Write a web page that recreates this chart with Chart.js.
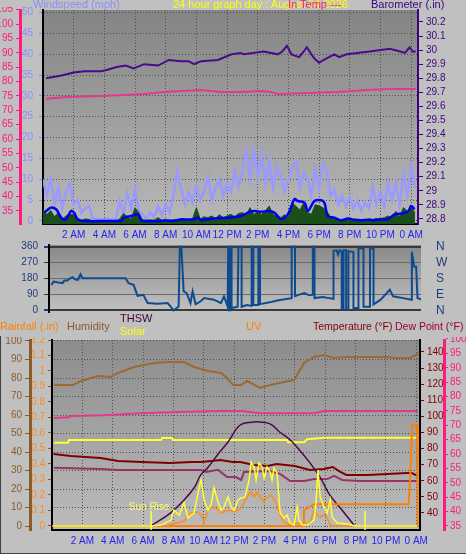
<!DOCTYPE html>
<html>
<head>
<meta charset="utf-8">
<script src="https://cdn.jsdelivr.net/npm/chart.js@4.4.1/dist/chart.umd.min.js"></script>
<style>
body{margin:0;background:#c0c0c0;width:466px;height:554px;position:relative;overflow:hidden;font-family:"Liberation Sans",Arial,sans-serif}
canvas{position:absolute;left:0}
.t{position:absolute;font-size:11px;line-height:12px;white-space:nowrap}
#frame{position:absolute;left:0;top:336px;width:465px;height:217px;border-left:1px solid #404040;border-bottom:1px solid #404040}
</style>
</head>
<body>
<div id="frame"></div>
<canvas id="top" width="466" height="234" style="top:7px"></canvas>
<canvas id="mid" width="466" height="80" style="top:236px"></canvas>
<canvas id="bot" width="466" height="217" style="top:337px"></canvas>

<div class="t" style="left:33px;top:-2px;color:#8c8cff">Windspeed (mph)</div>
<div class="t" style="left:173px;top:-2px;color:#ffff00">24 hour graph day : August 04 2026</div>
<div class="t" style="left:288px;top:-2px;color:#ff1a80">In Temp ---</div>
<div class="t" style="left:371px;top:-2px;color:#400080">Barometer (.in)</div>

<div class="t" style="left:0px;top:320px;color:#ff8000">Rainfall (.in)</div>
<div class="t" style="left:67px;top:320px;color:#8b5a2b">Humidity</div>
<div class="t" style="left:120px;top:312px;color:#400040">THSW</div>
<div class="t" style="left:120px;top:325px;color:#ffff00">Solar</div>
<div class="t" style="left:246px;top:320px;color:#ff8000">UV</div>
<div class="t" style="left:313px;top:320px;color:#800000;font-size:10.5px">Temperature (°F)</div>
<div class="t" style="left:395px;top:320px;color:#990033;font-size:10.5px">Dew Point (°F)</div>

<script>
// ---- tick values ----
const hourTicks = [0,2,4,6,8,10,12,14,16,18,20,22,24];
const windTicks = [0,5,10,15,20,25,30,35,40,45,50];
const pinkTicks = [35,40,45,50,55,60,65,70,75,80,85,90,95,100,105];
const baroTicks = [28.8,28.9,29,29.1,29.2,29.3,29.4,29.5,29.6,29.7,29.8,29.9,30,30.1,30.2];
const dirTicks = [0,90,180,270,360];
const dirNames = ['N','E','S','W','N'];
const humTicks = [0,10,20,30,40,50,60,70,80,90,100];
const rainTicks = [0,0.1,0.2,0.3,0.4,0.5,0.6,0.7,0.8,0.9,1,1.1,1.2];
const tempTicks = [40,50,60,70,80,90,100,110,120,130,140];
const dewTicks = [35,40,45,50,55,60,65,70,75,80,85,90,95,100];

// ---- top panel: [hour, value] ----
const barometer = [[0.2,29.80],[1.2,29.82],[2.0,29.84],[2.7,29.85],[3.8,29.85],[4.2,29.86],[4.8,29.88],[5.4,29.89],[5.9,29.87],[6.6,29.90],[7.5,29.89],[8.2,29.93],[9.0,29.92],[9.5,29.92],[9.85,29.90],[10.3,29.92],[11.4,29.93],[12.3,29.97],[12.9,29.98],[13.1,29.97],[14.4,29.99],[15.3,29.97],[15.6,29.99],[15.9,30.03],[16.2,29.97],[16.7,29.95],[17.0,29.99],[17.2,30.02],[17.5,29.97],[17.7,29.94],[18.0,29.91],[18.3,29.93],[19.0,29.97],[19.3,29.95],[19.8,29.97],[21.3,29.99],[22.6,30.01],[23.3,29.99],[23.6,29.98],[23.9,30.02],[24.1,29.99],[24.3,29.99]];
const insideTemp = [[0.2,74.0],[1.6,74.6],[3.8,75.0],[6.6,75.7],[7.9,76.4],[10.3,77.1],[11.6,76.4],[12.9,76.4],[14.3,76.7],[14.8,76.4],[15.3,75.7],[17.4,76.0],[19.2,76.4],[21.1,77.1],[22.6,77.4],[24.3,77.4]];
const windAvg = [[0.09,2.0],[0.52,3.2],[0.85,2.8],[1.06,1.6],[1.28,0.4],[1.5,0.4],[1.83,2.4],[2.04,1.9],[2.26,0.4],[2.7,0],[4.2,0],[4.87,0],[5.09,0],[5.3,0.8],[5.74,1.2],[6.18,1.6],[6.39,0.2],[6.6,0],[7.7,0],[7.91,0.2],[8.35,0],[8.79,0.2],[9.0,0.4],[9.87,0.4],[10.09,0.8],[10.3,0.2],[10.74,0.4],[11.18,0.6],[12.05,0.8],[12.92,1.2],[13.35,2.0],[13.78,2.4],[14.22,2.2],[14.66,2.4],[15.09,2.0],[15.53,0.4],[15.96,1.6],[16.39,5.2],[16.61,4.8],[17.05,4.4],[17.27,2.4],[17.7,4.8],[18.13,5.0],[18.35,4.4],[18.57,1.2],[19.0,0.8],[19.44,0.2],[19.88,0.6],[20.31,0.3],[20.74,0.2],[21.18,0.3],[21.61,0.2],[22.05,0.4],[22.48,0.4],[22.92,1.6],[23.35,1.8],[23.79,2.2],[24.0,3.6],[24.22,2.8]];
// sampled every quarter hour
const windStep = 0.25;
const windGust = [10,6,10,4,8,3,7,9,4,5, 2,3,3.6,0.5,0.5,0.4,0.4,0.5,0.4,0.5, 4.8,2,6.5,3,7.8,2.5,1.5,0.5,2,0.8, 3.6,1.5,4,2,6,11.8,8,4,7,4.5, 8.3,5,7,10.7,5,8,10,6,9,7, 11.9,8.3,12,17,10,17,11,16.2,9,14.4, 8,13,10.7,7,10,13,14.4,8,11.5,9.9, 6,12.6,8,13.8,12.5,6,7.5,4,6,3.5, 5.5,3,5,2.5,4.5,3,8.3,4,7,3.5, 9,5,9.1,4,11,6,13,8];
const windSpeed = [2.8,1.5,2.5,1,2,0.5,1.2,1.6,1.5,0.3, 0,0.5,0.4,0,0,0,0,0,0,0, 0.5,1.8,1,0.4,3.2,2,0.2,0.2,0.3,0.2, 0.8,0.2,0,0.2,0.3,0.4,0.2,0.3,0.2,0.5, 3.2,0.5,1,0.8,1.2,0.6,1.5,0.8,1.2,1.6, 1,1.8,2,1.4,3.2,1.5,2.2,1.6,2.4,3.6, 1.5,1.2,0.8,1.5,0.8,4.3,3.5,2.6,4.4,2, 1.6,3.9,3.6,3.2,2.4,0.8,0.5,0.4,0.2,0.3, 0.2,0.3,0.2,0.3,0.2,0.5,0.4,0.6,0.5,0.8, 1.2,0.8,2.3,1,3.2,2.4,3.2,2];

// ---- middle panel: wind direction [hour, degrees] ----
const windDir = [[0.16,144],[0.3,163],[0.63,157],[0.9,154],[1.0,169],[1.2,169],[1.3,176],[1.55,187],[1.7,176],[1.9,172],[2.07,204],[2.2,182],[5.03,182],[5.23,154],[5.56,144],[5.82,82],[6.2,88],[6.48,41],[7.14,37],[7.8,41],[8.2,0],[8.52,22],[8.6,360],[8.7,360],[8.85,107],[9.05,97],[9.3,41],[9.44,107],[9.64,34],[9.97,51],[10.2,69],[10.84,60],[11.3,41],[11.5,79],[11.74,22],[11.78,360],[11.83,360],[11.83,0],[11.92,0],[11.92,360],[12.0,360],[12.0,13],[12.4,20],[12.45,360],[12.66,360],[12.66,20],[13.0,30],[13.32,25],[13.32,360],[13.43,360],[13.43,30],[13.76,30],[13.76,360],[13.87,360],[13.87,35],[14.5,45],[15.0,55],[15.5,62],[15.95,69],[15.95,360],[16.17,360],[16.17,80],[16.5,90],[16.8,97],[17.1,85],[17.34,88],[17.34,360],[17.45,360],[17.45,69],[18.0,75],[18.4,69],[18.7,65],[18.7,335],[18.9,340],[19.0,315],[19.1,340],[19.24,332],[19.24,13],[19.36,13],[19.36,340],[19.53,340],[19.53,6],[19.68,6],[19.68,335],[20.01,330],[20.01,13],[20.34,13],[20.34,350],[20.67,350],[20.67,20],[21.1,20],[21.1,350],[21.33,350],[21.33,34],[21.8,60],[22.4,116],[22.62,79],[23.28,69],[23.83,60],[23.85,332],[24.0,247],[24.13,247],[24.22,69],[24.5,60]];

// ---- bottom panel: [hour, value] ----
const humidity = [[0.13,76.2],[1.38,76.2],[1.91,78.4],[3.03,81.1],[3.89,80.5],[4.35,82.7],[5.41,85.9],[6.72,88.1],[7.65,88.6],[8.7,88.6],[9.36,85.9],[10.28,83.8],[11.14,82.7],[11.54,80],[11.93,76.2],[12.46,76.2],[12.85,78.4],[13.71,74.6],[14.37,76.2],[15.29,77.8],[15.95,78.9],[16.61,88.1],[17.27,91.4],[17.93,92.4],[18.59,90.8],[19.45,91.4],[22.08,91.4],[22.54,90.8],[23.6,90.8],[24.19,93.5]];
const temperature = [[0.1,76.6],[1.25,75.4],[3.2,74.2],[4.35,72.3],[5.9,71.7],[7.8,71.0],[9.2,71.7],[9.8,71.7],[10.5,72.3],[11.1,72.9],[11.9,71.7],[12.4,71.7],[13.3,69.8],[14.2,69.2],[14.8,70.4],[16.0,69.2],[17.0,66.7],[17.9,67.3],[18.5,68.6],[19.0,65.5],[19.4,63.6],[20.8,63.6],[22.1,64.2],[23.4,64.8],[23.7,64.8],[24.1,63.0]];
const dewPoint = [[0.13,55.2],[3.23,54.8],[4.35,54.5],[9.82,54.5],[10.15,53.8],[10.94,54.5],[11.54,52],[12.13,52],[12.46,51],[12.66,53.8],[14.37,54.1],[15.03,53.1],[15.69,50.6],[16.61,50.6],[17.27,51.3],[18.13,51.3],[18.59,52.4],[19.12,51],[20.3,50.6],[24.06,50.6]];
const heatIndex = [[0.13,72.5],[1.1,72.8],[1.25,73.2],[3.4,73.5],[5.9,74.2],[8.3,74.6],[10.9,75.0],[12.5,75.0],[13.7,74.2],[17.3,74.2],[17.9,75.0],[24.1,75.0]];
const indoorTemp = [[0.13,83.7],[1.05,83.7],[1.12,85.3],[7.19,85.3],[7.25,86.6],[7.9,86.6],[7.98,85.3],[15.49,85.3],[15.56,83.9],[16.61,83.9],[16.8,85.8],[17.93,86.8],[24.06,86.8]];
const thsw = [[6.5,0],[7.8,7],[8.7,14.1],[9.4,21.1],[9.8,27.6],[10.3,31.9],[10.9,38.4],[11.6,45.4],[12.4,54.6],[13.3,56.2],[13.7,56.2],[14.4,55.1],[15.0,50.8],[15.7,46.5],[16.3,41.1],[17.0,34.1],[17.7,25.9],[18.3,16.8],[19.0,9.7],[19.9,0.5]];
const solar = [[0.07,0],[6.53,0],[7.19,0.5],[7.84,3.2],[8.04,8.6],[8.37,5.9],[8.7,12.4],[8.97,4.3],[9.16,5.9],[9.36,7],[9.62,17.8],[9.82,24.9],[10.02,14.1],[10.28,8.6],[10.48,11.4],[10.68,20.5],[10.94,13],[11.14,8.6],[11.34,10.3],[11.6,15.7],[11.8,10.3],[12.0,8.6],[12.26,14.1],[12.46,15.1],[12.72,15.7],[12.99,24.9],[13.12,34.6],[13.32,31.9],[13.45,24.9],[13.65,34.1],[13.84,31.9],[13.98,25.9],[14.17,31.9],[14.37,29.2],[14.5,24.9],[14.63,31.4],[14.83,28.6],[14.96,14.1],[15.03,7],[15.29,4.3],[15.49,5.9],[15.69,1.6],[15.95,0.5],[16.15,10.3],[16.28,3.2],[16.48,0.5],[16.81,0.5],[17.27,3.2],[17.4,13],[17.53,30.3],[17.67,15.7],[17.93,10.3],[18.13,7],[18.33,14.1],[18.46,4.9],[18.79,1.6],[19.45,1.1],[19.97,0],[24.06,0]];
const uv = [[7.38,0],[8.5,0.026],[8.7,0.032],[9.16,0.084],[9.62,0.09],[9.82,0.071],[10.02,0.026],[10.28,0.103],[10.48,0.116],[10.68,0.123],[10.94,0.103],[11.14,0.084],[11.6,0.103],[12.0,0.09],[12.46,0.116],[12.85,0.187],[13.12,0.219],[13.32,0.187],[13.51,0.219],[13.71,0.187],[13.98,0.155],[14.17,0.187],[14.44,0.2],[14.63,0.168],[14.83,0.135],[15.03,0.071],[15.29,0.026],[15.69,0.006],[16.15,0.019],[16.61,0.006],[17.01,0.026],[17.27,0.103],[17.47,0.071],[17.67,0.058],[17.93,0.071],[18.13,0.052],[18.33,0.006],[18.6,0],[24.06,0]];
const rainfall = [[0,0],[16.59,0],[16.6,0.1],[17.25,0.14],[23.5,0.14],[23.6,0.3],[23.73,0.65],[24.06,0.65],[24.1,0]];
const sunRise = 6.53, sunSet = 20.63;

// ---- helpers ----
const FONT = '"Liberation Sans", Arial, sans-serif';
Chart.defaults.font.family = FONT;
Chart.defaults.font.size = 10;
const pts = a => a.map(([x, y]) => ({x, y}));
const gridPts = a => a.map((y, i) => ({x: i * windStep, y}));
const setTicks = vals => s => { s.ticks = vals.map(v => ({value: v})); };
const vWidth = w => s => { s.width = w; s.paddingTop = 0; s.paddingBottom = 0; };
const hHeight = h => s => { s.height = h; s.paddingLeft = 0; s.paddingRight = 0; };
const num = v => String(+v.toFixed(2));
function hourLabel(v) {
  if (v === 0) return '';
  const h = v % 24;
  if (h === 0) return '0 AM';
  if (h < 12) return h + ' AM';
  if (h === 12) return '12 PM';
  return (h - 12) + ' PM';
}
const plotBg = (c0, c1) => ({
  id: 'plotBg',
  beforeDraw(chart) {
    const {ctx, chartArea: a} = chart;
    const g = ctx.createLinearGradient(0, a.top, 0, a.bottom);
    g.addColorStop(0, c0); g.addColorStop(1, c1);
    ctx.save(); ctx.fillStyle = g;
    ctx.fillRect(a.left, a.top, a.right - a.left, a.bottom - a.top);
    ctx.restore();
  }
});
const baseOpts = {
  responsive: false, animation: false, devicePixelRatio: 1,
  plugins: {legend: {display: false}, tooltip: {enabled: false}},
  elements: {point: {radius: 0}, line: {tension: 0}},
};
const xAxis = (max, h, pad) => ({
  type: 'linear', min: 0, max: max,
  afterBuildTicks: setTicks(hourTicks), afterFit: hHeight(h),
  ticks: {callback: hourLabel, color: '#2424ee', padding: pad, maxRotation: 0, autoSkip: false},
  grid: {color: '#505050', drawTicks: false},
  border: {color: '#000', width: 2, dash: [1, 2]}
});
const sideAxis = (pos, weight, w, min, max, ticks, color, o) => Object.assign({
  type: 'linear', position: pos, weight: weight, min: min, max: max,
  afterBuildTicks: setTicks(ticks), afterFit: vWidth(w),
  ticks: {color: color, padding: 3, autoSkip: false, callback: num},
  grid: {drawOnChartArea: false, tickColor: color, tickLength: 4},
  border: {color: color, width: 2}
}, o);

// ---- top: wind + barometer ----
new Chart(document.getElementById('top'), {
  type: 'line',
  data: {datasets: [
    {data: pts(windAvg), yAxisID: 'yWind', borderColor: '#0000f0', borderWidth: 2.5, tension: 0.35},
    {data: gridPts(windSpeed), yAxisID: 'yWind', borderColor: '#1a4f1a', backgroundColor: '#1a4f1a', borderWidth: 1, fill: 'start'},
    {data: gridPts(windGust), yAxisID: 'yWind', borderColor: '#9999ff', borderWidth: 2.6},
    {data: pts(barometer), yAxisID: 'yBaro', borderColor: '#4b0a8c', borderWidth: 2},
    {data: pts(insideTemp), yAxisID: 'yPink', borderColor: '#e3398a', borderWidth: 2}
  ]},
  options: Object.assign({}, baseOpts, {
    layout: {padding: {top: 3, left: 0, right: 0, bottom: 0}},
    scales: {
      x: xAxis(24.45, 17, 5),
      yWind: sideAxis('left', 0, 23, -0.72, 50.6, windTicks, '#8c8cff', {
        ticks: {color: '#8c8cff', padding: 6, autoSkip: false},
        grid: {color: '#505050', tickColor: '#8c8cff', tickLength: 4},
        border: {color: '#000', width: 2, dash: [1, 2]}
      }),
      yPink: sideAxis('left', 1, 20, 30.48, 104.87, pinkTicks, '#ff1a80', {border: {color: '#ff1a80', width: 3}}),
      yBaro: sideAxis('right', 0, 48, 28.764, 30.285, baroTicks, '#400080', {
        grid: {drawOnChartArea: false, tickColor: '#400080', tickLength: 5}
      })
    }
  }),
  plugins: [plotBg('#848484', '#b8b8b8')]
});

// ---- middle: wind direction ----
new Chart(document.getElementById('mid'), {
  type: 'line',
  data: {datasets: [
    {data: pts(windDir), yAxisID: 'yDir', borderColor: '#0e4b8e', borderWidth: 2}
  ]},
  options: Object.assign({}, baseOpts, {
    layout: {padding: {top: 9, left: 0, right: 0, bottom: 4}},
    scales: {
      x: {type: 'linear', display: false, min: 0, max: 24.45},
      yDir: sideAxis('left', 0, 49, -9.6, 369.6, dirTicks, '#1c3c78', {
        ticks: {color: '#1c3c78', padding: 6, autoSkip: false},
        grid: {
          color: c => (c.tick && c.tick.value % 360 === 0) ? '#3a3a3a' : '#6a6a6a',
          lineWidth: c => (c.tick && c.tick.value % 360 === 0) ? 2 : 1,
          tickColor: '#1c3c78', tickLength: 5
        },
        border: {color: '#000', width: 2}
      }),
      yDirR: sideAxis('right', 0, 45, -9.6, 369.6, dirTicks, '#1c3c78', {
        ticks: {color: '#1c3c78', padding: 15, autoSkip: false, font: {size: 12}, callback: (v, i) => dirNames[i]},
        grid: {display: false, drawTicks: false},
        border: {display: false}
      })
    }
  }),
  plugins: [plotBg('#888888', '#c2c2c2')]
});

// ---- bottom: temperature, humidity, solar, rain ----
const sunMarks = {
  id: 'sunMarks',
  afterDatasetsDraw(chart) {
    const {ctx, chartArea: a, scales} = chart;
    ctx.save();
    ctx.strokeStyle = '#ffff40'; ctx.lineWidth = 1.5;
    [sunRise, sunSet].forEach(t => {
      const x = scales.x.getPixelForValue(t);
      ctx.beginPath(); ctx.moveTo(x, a.bottom); ctx.lineTo(x, a.bottom - 19); ctx.stroke();
    });
    ctx.fillStyle = '#ffff66';
    ctx.font = '10px ' + FONT;
    ctx.textAlign = 'center';
    ctx.fillText('Sun Rise', scales.x.getPixelForValue(sunRise) - 2, a.bottom - 20);
    ctx.restore();
  }
};
new Chart(document.getElementById('bot'), {
  type: 'line',
  data: {datasets: [
    {data: pts(solar), yAxisID: 'yHum', borderColor: '#ffff33', borderWidth: 1.5},
    {data: pts(uv), yAxisID: 'yRain', borderColor: '#ff8c1a', borderWidth: 1.5},
    {data: pts(rainfall), yAxisID: 'yRain', borderColor: '#ff8000', borderWidth: 2},
    {data: pts(thsw), yAxisID: 'yHum', borderColor: '#4a0a4a', borderWidth: 1.5, tension: 0.4},
    {data: pts(humidity), yAxisID: 'yHum', borderColor: '#9b6a32', borderWidth: 2},
    {data: pts(temperature), yAxisID: 'yTemp', borderColor: '#800000', borderWidth: 2},
    {data: pts(dewPoint), yAxisID: 'yDew', borderColor: '#993366', borderWidth: 2},
    {data: pts(heatIndex), yAxisID: 'yDew', borderColor: '#e3398a', borderWidth: 2},
    {data: pts(indoorTemp), yAxisID: 'yTemp', borderColor: '#ffff33', borderWidth: 2}
  ]},
  options: Object.assign({}, baseOpts, {
    layout: {padding: {top: 3, left: 0, right: 0, bottom: 0}},
    scales: {
      x: xAxis(24.25, 24, 5),
      yRain: sideAxis('left', 0, 22, -0.026, 1.2, rainTicks, '#ff8c1a', {
        grid: {drawOnChartArea: false, tickColor: '#8b5a2b', tickLength: 4},
        border: {color: '#000', width: 2}
      }),
      yHum: sideAxis('left', 1, 30, -2.16, 100.54, humTicks, '#8b5a2b', {
        grid: {color: '#505050', tickColor: '#8b5a2b', tickLength: 5},
        border: {color: '#8b5a2b', width: 3, dash: [1, 2]}
      }),
      yTemp: sideAxis('right', 0, 24, 29.44, 147.45, tempTicks, '#800000', {
        border: {color: '#000', width: 2}
      }),
      yDew: sideAxis('right', 1, 22, 33.6, 99.65, dewTicks, '#ff1a80', {
        ticks: {color: '#ff1a80', padding: 2, autoSkip: false},
        border: {color: '#ff1a80', width: 3}
      })
    }
  }),
  plugins: [plotBg('#8c8c8c', '#bcbcbc'), sunMarks]
});
</script>
</body>
</html>
